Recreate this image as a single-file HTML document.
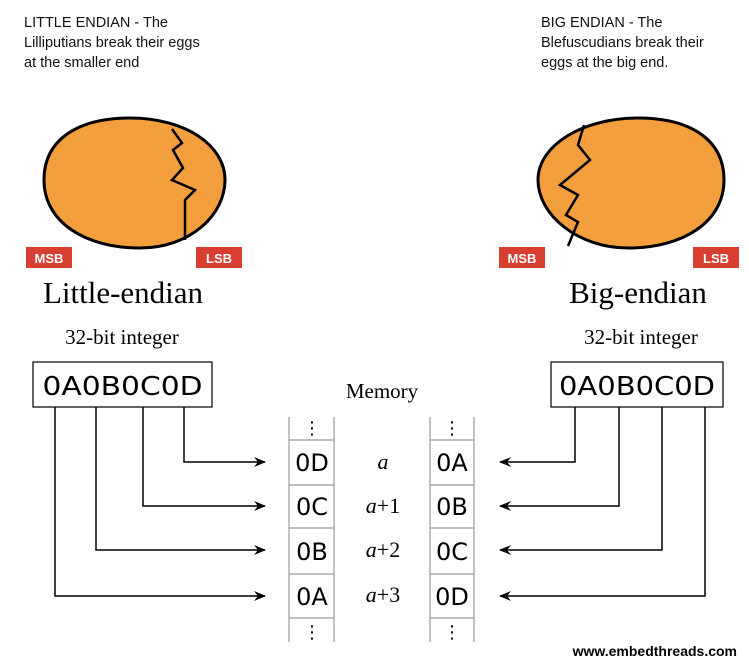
<!DOCTYPE html>
<html><head><meta charset="utf-8"><style>
body{margin:0;background:#fff;width:749px;height:670px;overflow:hidden}
svg{display:block}
.sans{font-family:"Liberation Sans",sans-serif}
.serif{font-family:"Liberation Serif",serif}
.dv{font-family:"DejaVu Sans",sans-serif}
</style></head><body>
<svg width="749" height="670" viewBox="0 0 749 670">
<defs><marker id="ah" viewBox="0 0 12 10" refX="11" refY="5" markerWidth="12" markerHeight="10" markerUnits="userSpaceOnUse" orient="auto"><path d="M0,0 L12,5 L0,10 L4,5 Z" fill="#000"/></marker></defs>
<g class="sans" font-size="14.5" fill="#111">
<text x="24" y="27">LITTLE ENDIAN - The</text><text x="24" y="47">Lilliputians break their eggs</text><text x="24" y="67">at the smaller end</text></g>
<g class="sans" font-size="14.5" fill="#111">
<text x="541" y="27">BIG ENDIAN - The</text><text x="541" y="47">Blefuscudians break their</text><text x="541" y="67">eggs at the big end.</text></g>
<g>
<path d="M44,180 C44,138 80,118 130,118 C185,118 225,145 225,180 C225,215 190,248 140,248 C85,248 44,222 44,180 Z" fill="#f39f3e" stroke="#000" stroke-width="3"/>
<path d="M172,129 L182,143 L173,150 L183,168 L172,180 L195,190 L185,200 L185,240" fill="none" stroke="#000" stroke-width="2.5"/></g>
<g>
<path d="M724,180 C724,138 688,118 638,118 C583,118 538,145 538,180 C538,215 578,248 628,248 C683,248 724,222 724,180 Z" fill="#f39f3e" stroke="#000" stroke-width="3"/>
<path d="M584,125 L578,145 L590,160 L560,185 L578,195 L566,215 L578,222 L568,246" fill="none" stroke="#000" stroke-width="2.5"/></g>
<g class="sans" font-weight="bold" font-size="13" fill="#fff">
<rect x="26" y="247" width="46" height="21" fill="#d93f30"/><text x="49" y="263" text-anchor="middle">MSB</text>
<rect x="196" y="247" width="46" height="21" fill="#d93f30"/><text x="219" y="263" text-anchor="middle">LSB</text>
<rect x="499" y="247" width="46" height="21" fill="#d93f30"/><text x="522" y="263" text-anchor="middle">MSB</text>
<rect x="693" y="247" width="46" height="21" fill="#d93f30"/><text x="716" y="263" text-anchor="middle">LSB</text></g>
<text class="serif" x="123" y="303" font-size="31" text-anchor="middle">Little-endian</text>
<text class="serif" x="638" y="303" font-size="31" text-anchor="middle">Big-endian</text>
<text class="serif" x="122" y="344" font-size="21" text-anchor="middle">32-bit integer</text>
<text class="serif" x="641" y="344" font-size="21" text-anchor="middle">32-bit integer</text>
<text class="serif" x="382" y="398" font-size="21" text-anchor="middle">Memory</text>
<rect x="33" y="362" width="179" height="45" fill="#fff" stroke="#000" stroke-width="1.2"/>
<text class="dv" x="122.5" y="395" font-size="26" text-anchor="middle" textLength="160" lengthAdjust="spacingAndGlyphs">0A0B0C0D</text>
<rect x="551" y="362" width="172" height="45" fill="#fff" stroke="#000" stroke-width="1.2"/>
<text class="dv" x="637" y="395" font-size="26" text-anchor="middle" textLength="156" lengthAdjust="spacingAndGlyphs">0A0B0C0D</text>
<g fill="none" stroke="#000" stroke-width="1.5" marker-end="url(#ah)">
<path d="M184,407 V462 H265"/><path d="M143,407 V506 H265"/><path d="M96,407 V550 H265"/><path d="M55,407 V596 H265"/>
<path d="M575,407 V462 H500"/><path d="M619,407 V506 H500"/><path d="M662,407 V550 H500"/><path d="M705,407 V596 H500"/></g>
<g stroke="#999" stroke-width="1.2" fill="none">
<path d="M289,417 V642 M334,417 V642 M430,417 V642 M474,417 V642"/>
<path d="M289,440 H334 M289,485 H334 M289,528 H334 M289,574 H334 M289,618 H334"/>
<path d="M430,440 H474 M430,485 H474 M430,528 H474 M430,574 H474 M430,618 H474"/></g>
<g class="dv" font-size="24" text-anchor="middle" fill="#000">
<text x="312" y="471">0D</text><text x="312" y="515">0C</text><text x="312" y="560">0B</text><text x="312" y="605">0A</text>
<text x="452" y="471">0A</text><text x="452" y="515">0B</text><text x="452" y="560">0C</text><text x="452" y="605">0D</text>
<text x="312" y="434" font-size="18">⋮</text><text x="312" y="638" font-size="18">⋮</text>
<text x="452" y="434" font-size="18">⋮</text><text x="452" y="638" font-size="18">⋮</text></g>
<g class="serif" font-size="22" text-anchor="middle">
<text x="383" y="469"><tspan font-style="italic">a</tspan></text>
<text x="383" y="513"><tspan font-style="italic">a</tspan>+1</text>
<text x="383" y="557"><tspan font-style="italic">a</tspan>+2</text>
<text x="383" y="602"><tspan font-style="italic">a</tspan>+3</text></g>
<text class="sans" x="737" y="656" font-size="14" font-weight="bold" text-anchor="end">www.embedthreads.com</text>
</svg>
</body></html>
